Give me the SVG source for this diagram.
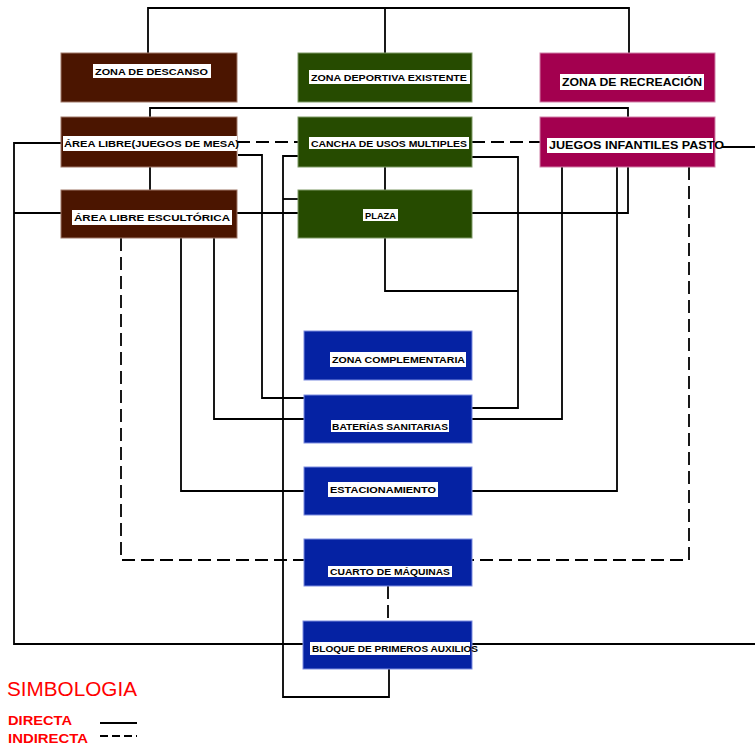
<svg xmlns="http://www.w3.org/2000/svg" width="755" height="749" viewBox="0 0 755 749">
<style>
.brown{fill:#4b1500;stroke:#a07868;stroke-width:1}
.green{fill:#264b00;stroke:#7f9a66;stroke-width:1}
.mag{fill:#a3004f;stroke:#d080a8;stroke-width:1}
.blue{fill:#0522a3;stroke:#7d8ce0;stroke-width:1}
.lbl{fill:#ffffff}
.t{font-family:"Liberation Sans",Arial,sans-serif;font-weight:bold;font-size:8.5px;fill:#000}
.t10{font-family:"Liberation Sans",Arial,sans-serif;font-weight:bold;font-size:10px;fill:#000}
.c{fill:none;stroke:#000;stroke-width:1.8}
.d{fill:none;stroke:#000;stroke-width:1.8;stroke-dasharray:13,6}
.red{font-family:"Liberation Sans",Arial,sans-serif;fill:#ff0000}
</style>
<rect width="755" height="749" fill="#ffffff"/>
<g id="connectors">
<polyline class="c" points="148,53 148,8 629,8 629,53"/>
<line class="c" x1="385" y1="8" x2="385" y2="53"/>
<polyline class="c" points="150,117 150,108 628,108 628,117"/>
<line class="d" x1="237" y1="142" x2="298" y2="142"/>
<line class="d" x1="472" y1="142" x2="540" y2="142"/>
<polyline class="c" points="63,143 14,143 14,644 303,644"/>
<line class="c" x1="472" y1="644" x2="755" y2="644"/>
<line class="c" x1="722" y1="147" x2="755" y2="147"/>
<line class="c" x1="14" y1="213" x2="61" y2="213"/>
<line class="c" x1="150" y1="167" x2="150" y2="190"/>
<line class="c" x1="237" y1="213" x2="298" y2="213"/>
<polyline class="c" points="472,213 628,213 628,167"/>
<line class="c" x1="385" y1="167" x2="385" y2="190"/>
<polyline class="c" points="385,238 385,291 518,291"/>
<polyline class="c" points="472,157 518,157 518,408 472,408"/>
<polyline class="c" points="238,155 262,155 262,398 304,398"/>
<polyline class="c" points="214,238 214,419 304,419"/>
<polyline class="c" points="181,238 181,491 304,491"/>
<polyline class="d" points="121,238 121,560 304,560"/>
<polyline class="c" points="298,156 283,156 283,697 389,697 389,669"/>
<line class="c" x1="283" y1="199" x2="298" y2="199"/>
<polyline class="c" points="562,167 562,419 472,419"/>
<polyline class="c" points="617,167 617,491 472,491"/>
<polyline class="d" points="689,167 689,560 472,560"/>
<line class="d" x1="388" y1="586" x2="388" y2="621"/>
</g>
<g id="n-descanso">
<rect class="brown" x="61" y="53" width="176" height="49"/>
<rect class="lbl" x="93" y="64" width="118" height="14"/>
<text class="t" x="95" y="74.5" textLength="113" lengthAdjust="spacingAndGlyphs">ZONA DE DESCANSO</text>
</g>
<g id="n-deportiva">
<rect class="green" x="298" y="53" width="174" height="49"/>
<rect class="lbl" x="309" y="70" width="161" height="14"/>
<text class="t" x="311" y="80.5" textLength="156" lengthAdjust="spacingAndGlyphs">ZONA DEPORTIVA EXISTENTE</text>
</g>
<g id="n-recreacion">
<rect class="mag" x="540" y="53" width="175" height="49"/>
<rect class="lbl" x="560" y="74" width="144" height="16"/>
<text class="t10" x="562" y="86" textLength="140" lengthAdjust="spacingAndGlyphs">ZONA DE RECREACIÓN</text>
</g>
<g id="n-juegos-mesa">
<rect class="brown" x="61" y="117" width="176" height="50"/>
<rect class="lbl" x="63" y="136" width="174" height="15"/>
<text class="t" x="64" y="147" textLength="175" lengthAdjust="spacingAndGlyphs">ÁREA LIBRE(JUEGOS DE MESA)</text>
</g>
<g id="n-cancha">
<rect class="green" x="298" y="117" width="174" height="50"/>
<rect class="lbl" x="309" y="137" width="160" height="12"/>
<text class="t" x="311" y="146.5" textLength="156" lengthAdjust="spacingAndGlyphs">CANCHA DE USOS MULTIPLES</text>
</g>
<g id="n-infantiles">
<rect class="mag" x="540" y="117" width="175" height="50"/>
<rect class="lbl" x="547" y="138" width="166" height="15"/>
<text class="t10" x="549" y="149" textLength="175" lengthAdjust="spacingAndGlyphs">JUEGOS INFANTILES PASTO</text>
</g>
<g id="n-escultorica">
<rect class="brown" x="61" y="190" width="176" height="48"/>
<rect class="lbl" x="72" y="210" width="160" height="15"/>
<text class="t" x="74" y="221" textLength="156" lengthAdjust="spacingAndGlyphs">ÁREA LIBRE ESCULTÓRICA</text>
</g>
<g id="n-plaza">
<rect class="green" x="298" y="190" width="174" height="48"/>
<rect class="lbl" x="363" y="209" width="35" height="12"/>
<text class="t" x="365" y="218.5" textLength="31" lengthAdjust="spacingAndGlyphs">PLAZA</text>
</g>
<g id="n-complementaria">
<rect class="blue" x="304" y="331" width="168" height="49"/>
<rect class="lbl" x="330" y="352" width="136" height="15"/>
<text class="t" x="332" y="363" textLength="133" lengthAdjust="spacingAndGlyphs">ZONA COMPLEMENTARIA</text>
</g>
<g id="n-baterias">
<rect class="blue" x="304" y="395" width="168" height="48"/>
<rect class="lbl" x="331" y="420" width="118" height="12"/>
<text class="t" x="332" y="429.5" textLength="116" lengthAdjust="spacingAndGlyphs">BATERÍAS SANITARIAS</text>
</g>
<g id="n-estacionamiento">
<rect class="blue" x="304" y="467" width="168" height="48"/>
<rect class="lbl" x="328" y="482" width="110" height="15"/>
<text class="t" x="330" y="493" textLength="106" lengthAdjust="spacingAndGlyphs">ESTACIONAMIENTO</text>
</g>
<g id="n-maquinas">
<rect class="blue" x="304" y="539" width="168" height="47"/>
<rect class="lbl" x="328" y="566" width="124" height="11"/>
<text class="t" x="330" y="575" textLength="120" lengthAdjust="spacingAndGlyphs">CUARTO DE MÁQUINAS</text>
</g>
<g id="n-auxilios">
<rect class="blue" x="303" y="621" width="169" height="48"/>
<rect class="lbl" x="310" y="642" width="160" height="13"/>
<text class="t" x="312" y="652" textLength="166" lengthAdjust="spacingAndGlyphs">BLOQUE DE PRIMEROS AUXILIOS</text>
</g>
<g id="legend">
<text class="red" x="7" y="696" font-size="20.5" textLength="130" lengthAdjust="spacingAndGlyphs">SIMBOLOGIA</text>
<text class="red" x="8" y="725" font-size="13.5" font-weight="bold" textLength="64" lengthAdjust="spacingAndGlyphs">DIRECTA</text>
<text class="red" x="8" y="743" font-size="13.5" font-weight="bold" textLength="80" lengthAdjust="spacingAndGlyphs">INDIRECTA</text>
<line class="c" x1="100" y1="723" x2="137" y2="723"/>
<line class="c" x1="100" y1="736" x2="137" y2="736" stroke-dasharray="8,4"/>
</g>
</svg>
